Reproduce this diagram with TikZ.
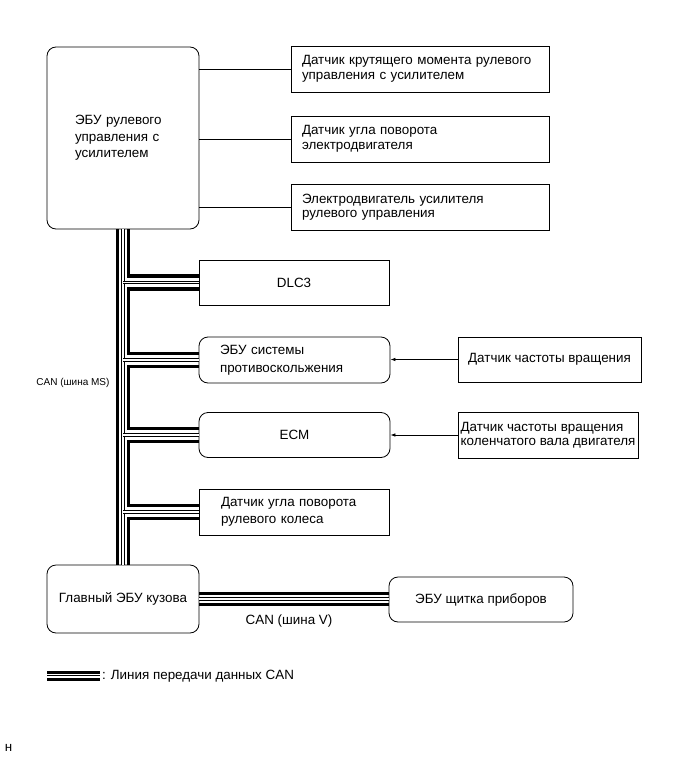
\documentclass[tikz,border=0pt]{standalone}
\usepackage{fontspec}
\setmainfont{Liberation Sans}
\usetikzlibrary{arrows.meta}

\begin{document}
\begin{tikzpicture}[x=1pt,y=-1pt,
    every node/.style={font=\fontsize{13.4}{14.5}\selectfont},
    lines/.style={font=\fontsize{13.4}{#1}\selectfont},
    box/.style={draw,line width=0.8pt,inner ysep=0pt,minimum height=46pt},
    ecu/.style={box,rounded corners=9pt},
    can/.style={line width=3.5pt},
    canmid/.style={double,line width=0.7pt,double distance=1.8pt},
    wire/.style={line width=0.7pt}]

  \useasboundingbox (0,0) rectangle (691,757);

  \node[ecu,lines=16.5,minimum height=182pt,inner xsep=28pt,text width=96pt,align=left] (eps) at (123,138)
    {ЭБУ рулевого\\управления с\\усилителем};
  \node[box,inner xsep=11pt,text width=236pt,align=left] (tq) at (420,69)
    {Датчик крутящего момента рулевого\\управления с усилителем};
  \node[box,inner xsep=11pt,text width=236pt,align=left] (mas) at (420,139)
    {Датчик угла поворота\\электродвигателя};
  \node[box,inner xsep=11pt,text width=236pt,align=left] (mot) at (420,207)
    {Электродвигатель усилителя\\рулевого управления};

  \node[box,minimum width=190pt,minimum height=45pt] (dlc) at (294,282.5) {DLC3};
  \node[ecu,lines=17.5,inner xsep=21pt,text width=149pt,align=left] (abs) at (294.5,360)
    {ЭБУ системы\\противоскольжения};
  \node[ecu,minimum width=191pt,minimum height=45pt] (ecm) at (294.5,435) {ECM};
  \node[box,lines=17.5,inner xsep=22pt,text width=146pt,align=left] (sas) at (294,512)
    {Датчик угла поворота\\рулевого колеса};

  \node[box,minimum width=183pt,minimum height=45pt] (wss) at (549.5,359.5) {Датчик частоты вращения};
  \node[box,minimum width=180pt,inner xsep=2pt,align=left] (cps) at (548,435)
    {Датчик частоты вращения\\коленчатого вала двигателя};

  \node[ecu,minimum width=152pt,minimum height=68pt] (bcm) at (123,599) {Главный ЭБУ кузова};
  \node[ecu,minimum width=184pt,minimum height=45pt] (meter) at (481,599.5) {ЭБУ щитка приборов};

  \foreach \n in {tq,mas,mot}
    \draw[wire] (\n.west -| eps.east) -- (\n.west);
  \draw[wire,-{Latex[length=5pt,width=3.5pt]}] (wss.west) -- (wss.west -| abs.east);
  \draw[wire,-{Latex[length=5pt,width=3.5pt]}] (cps.west) -- (cps.west -| ecm.east);

  \coordinate (busL) at ([xshift=-5.5pt]eps.south);
  \coordinate (busR) at ([xshift=5.5pt]eps.south);
  \draw[can] (busL) -- (busL |- bcm.north);
  \draw[canmid] (eps.south) -- (eps.south |- bcm.north);
  \foreach \n in {dlc,abs,ecm,sas}
    \draw[canmid] (eps.south |- \n.west) -- (\n.west);
  \draw[can] (busR) |- ([yshift=6.5pt]dlc.west);
  \foreach \a/\b in {dlc/abs,abs/ecm,ecm/sas}
    \draw[can] ([yshift=-6.5pt]\a.west) -| ([yshift=6.5pt]busR |- \b.west) -- ([yshift=6.5pt]\b.west);
  \draw[can] ([yshift=-6.5pt]sas.west) -| (busR |- bcm.north);

  \draw[can] ([yshift=5.5pt]bcm.east) -- ([yshift=5.5pt]bcm.east -| meter.west);
  \draw[can] ([yshift=-5.5pt]bcm.east) -- ([yshift=-5.5pt]bcm.east -| meter.west);
  \draw[canmid] (bcm.east) -- (bcm.east -| meter.west);

  \node[anchor=east,font=\fontsize{10}{12}\selectfont] (ms) at (113,383) {CAN (шина MS)};
  \node (vbus) at (289,621) {CAN (шина V)};

  \coordinate (legA) at (47,676);
  \coordinate (legB) at (100,676);
  \draw[can,line width=3pt] ([yshift=3.5pt]legA) -- ([yshift=3.5pt]legB);
  \draw[can,line width=3pt] ([yshift=-3.5pt]legA) -- ([yshift=-3.5pt]legB);
  \draw[canmid,line width=0.5pt,double distance=0.9pt] (legA) -- (legB);
  \node[anchor=west,inner xsep=2pt] (legtext) at (legB) {: Линия передачи данных CAN};

  \node (mark) at (8.5,748) {н};
\end{tikzpicture}
\end{document}
